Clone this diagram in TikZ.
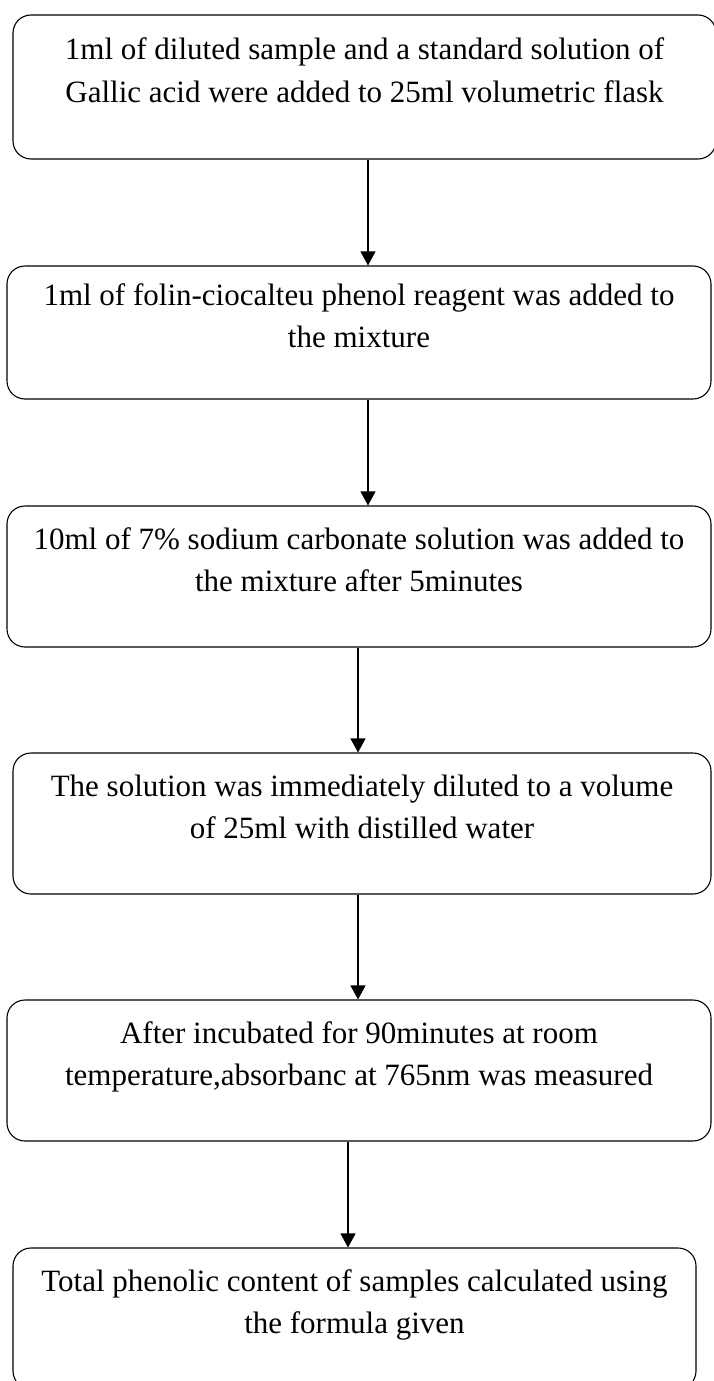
\documentclass[tikz,border=0pt]{standalone}
\usepackage{fontspec}
\setmainfont{Liberation Serif}
\usepackage{tikz}
\usetikzlibrary{arrows.meta,positioning}

\begin{document}
\begin{tikzpicture}[
  x=1pt, y=-1pt,
  font=\fontsize{31}{42.5}\selectfont,
  stepbox/.style={draw, line width=1.1pt, rounded corners=18pt, align=center,
    text depth=34pt, minimum width=#1},
  stepbox/.default=704pt,
  arr/.style={-{Triangle[length=14pt,width=15pt]}, line width=1.1pt}
]
\useasboundingbox (0,0) rectangle (713,1381);
% steps
\node[stepbox=703pt, minimum height=144pt] (s1) at (364.5,87)
  {1ml of diluted sample and a standard solution of\\Gallic acid were added to 25ml volumetric flask};
\node[stepbox, minimum height=133pt] (s2) at (359,332.5)
  {1ml of folin-ciocalteu phenol reagent was added to\\the mixture};
\node[stepbox, minimum height=141pt] (s3) at (359,576.5)
  {10ml of 7\% sodium carbonate solution was added to\\the mixture after 5minutes};
\node[stepbox=698pt, minimum height=141pt] (s4) at (362,823.5)
  {The solution was immediately diluted to a volume\\of 25ml with distilled water};
\node[stepbox, minimum height=141pt] (s5) at (359,1070.5)
  {After incubated for 90minutes at room\\temperature,absorbanc at 765nm was measured};
\node[stepbox=683pt, minimum height=141pt] (s6) at (354.5,1318.5)
  {Total phenolic content of samples calculated using\\the formula given};
% arrows
\foreach \a/\b/\dx in {s1/s2/3.5, s2/s3/9, s3/s4/-1, s4/s5/-4, s5/s6/-11} {
  \draw[arr] ([xshift=\dx pt]\a.south) -- ([xshift=\dx pt]\a.south |- \b.north);
}
\end{tikzpicture}
\end{document}
